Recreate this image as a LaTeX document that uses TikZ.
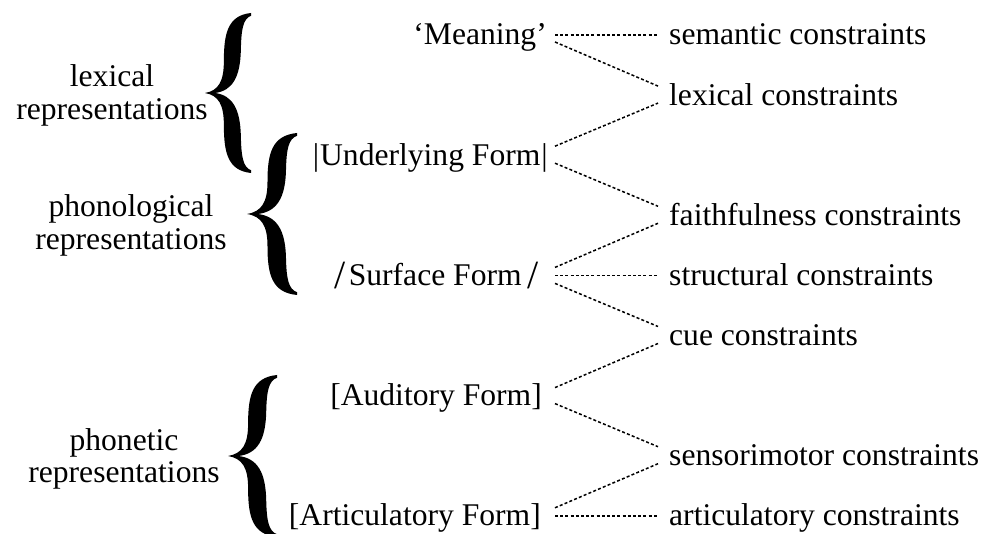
\documentclass[tikz,border=0pt]{standalone}
\usepackage{fontspec}
\setmainfont{Liberation Serif}
\usetikzlibrary{calc}
\newcommand{\bigsl}{\raisebox{-3pt}{\fontsize{40}{40}\selectfont /}}
\tikzset{
  lbl/.style={inner sep=0pt, font=\fontsize{31.6}{33}\selectfont},
  midform/.style={lbl, anchor=base east},
  cons/.style={lbl, anchor=base west},
  grp/.style={lbl, anchor=base},
  con/.style={line width=1.5pt, dash pattern=on 3pt off 2.2pt},
  cbrace/.pic={
    \fill (0,0) .. controls (0.3,0.03) and (0.41,0.15) .. (0.41,0.4)
      .. controls (0.41,0.75) and (0.5,0.97) .. (1,1) -- (1,0.965)
      .. controls (0.83,0.93) and (0.79,0.8) .. (0.78,0.55)
      .. controls (0.77,0.2) and (0.6,0.03) .. (0.22,0)
      .. controls (0.6,-0.03) and (0.77,-0.2) .. (0.78,-0.55)
      .. controls (0.79,-0.8) and (0.83,-0.93) .. (1,-0.965) -- (1,-1)
      .. controls (0.5,-0.97) and (0.41,-0.75) .. (0.41,-0.4)
      .. controls (0.41,-0.15) and (0.3,-0.03) .. (0,0) -- cycle;
  }
}
\begin{document}
\begin{tikzpicture}[x=1pt,y=1pt]
\useasboundingbox (0,0) rectangle (985,533);
% group labels
\node[grp] (glex) at (112,446) {\begin{tabular}[t]{@{}c@{}}lexical\\representations\end{tabular}};
\node[grp] (gpho) at (131,316) {\begin{tabular}[t]{@{}c@{}}phonological\\representations\end{tabular}};
\node[grp] (gphn) at (124,83) {\begin{tabular}[t]{@{}c@{}}phonetic\\representations\end{tabular}};
% braces
\pic[xscale=46, yscale=80] at (205,440) {cbrace};
\pic[xscale=50, yscale=81] at (247,319) {cbrace};
\pic[xscale=49, yscale=81] at (228,77) {cbrace};
% forms
\node[midform] (mea) at (547,488) {‘Meaning’};
\node[midform] (uf) at (548,367.8) {|\kern1pt Underlying Form\kern1pt|};
\node[midform] (sf) at (539,247.6) {\bigsl\hspace{3pt}Surface Form\hspace{6pt}\bigsl};
\node[midform] (af) at (542,127.4) {[Auditory Form]};
\node[midform] (arf) at (541,7.2) {[Articulatory Form]};
% constraints
\node[cons] (sem) at (669,488) {semantic constraints};
\node[cons] (lex) at (669,427.9) {lexical constraints};
\node[cons] (fai) at (669,307.7) {faithfulness constraints};
\node[cons] (str) at (669,247.6) {structural constraints};
\node[cons] (cue) at (669,187.5) {cue constraints};
\node[cons] (sen) at (669,67.3) {sensorimotor constraints};
\node[cons] (art) at (669,7.2) {articulatory constraints};
% connectors
\draw[con] ($(mea.base east)+(8,10)$) -- ($(sem.base west)+(-11,10)$);
\draw[con] ($(mea.base east)+(8,3)$) -- ($(lex.base west)+(-11,19)$);
\draw[con] ($(uf.base east)+(7,19)$) -- ($(lex.base west)+(-11,2)$);
\draw[con] ($(uf.base east)+(7,2)$) -- ($(fai.base west)+(-11,19)$);
\draw[con] ($(sf.base east)+(16,18)$) -- ($(fai.base west)+(-11,2)$);
\draw[con] ($(sf.base east)+(16,10)$) -- ($(str.base west)+(-11,10)$);
\draw[con] ($(sf.base east)+(16,2)$) -- ($(cue.base west)+(-11,19)$);
\draw[con] ($(af.base east)+(13,18)$) -- ($(cue.base west)+(-11,2)$);
\draw[con] ($(af.base east)+(13,2)$) -- ($(sen.base west)+(-11,19)$);
\draw[con] ($(arf.base east)+(14,18)$) -- ($(sen.base west)+(-11,2)$);
\draw[con] ($(arf.base east)+(14,10)$) -- ($(art.base west)+(-11,10)$);
\end{tikzpicture}
\end{document}
